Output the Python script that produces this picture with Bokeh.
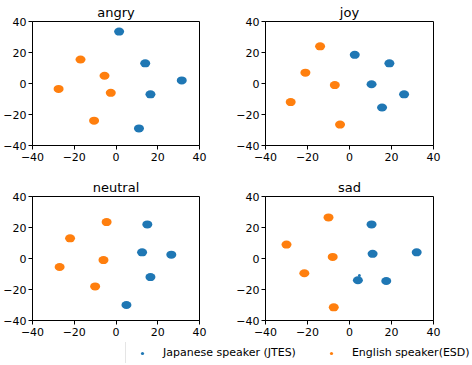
from bokeh.plotting import figure
from bokeh.layouts import gridplot, column
from bokeh.models import Range1d, FixedTicker, Legend, LegendItem
from bokeh.embed import file_html
from bokeh.resources import INLINE

# ---- data ----
emotions = ["angry", "joy", "neutral", "sad"]

angry_jp_x = [1.5, 14.0, 31.5, 16.5, 11.0]
angry_jp_y = [33.5, 13.0, 2.0, -7.0, -29.0]
angry_en_x = [-17.0, -5.5, -27.5, -2.5, -10.5]
angry_en_y = [15.5, 5.0, -3.5, -6.0, -24.0]

joy_jp_x = [2.5, 19.0, 10.5, 26.0, 15.5]
joy_jp_y = [18.5, 13.0, -0.5, -7.0, -15.5]
joy_en_x = [-14.0, -21.0, -7.0, -28.0, -4.5]
joy_en_y = [24.0, 7.0, -1.0, -12.0, -26.5]

neutral_jp_x = [15.0, 12.5, 26.5, 16.5, 5.0]
neutral_jp_y = [22.0, 4.0, 2.5, -12.0, -30.0]
neutral_en_x = [-4.5, -22.0, -6.0, -27.0, -10.0]
neutral_en_y = [23.5, 13.0, -1.0, -5.5, -18.0]

sad_jp_x = [10.5, 11.0, 32.0, 4.0, 17.5]
sad_jp_y = [22.0, 3.0, 4.0, -14.0, -14.5]
sad_en_x = [-10.0, -30.0, -8.0, -21.5, -7.5]
sad_en_y = [26.5, 9.0, 1.0, -9.5, -31.5]

sad_jp_stray_x = [4.7]
sad_jp_stray_y = [-11.0]

tick_values = [-40, -20, 0, 20, 40]
tick_labels = ["\u221240", "\u221220", "0", "20", "40"]

series_labels = ["Japanese speaker (JTES)", "English speaker(ESD)"]

BLUE = "#1f77b4"
ORANGE = "#ff7f0e"
FONT = "DejaVu Sans"

panel_data = {
    "angry": (angry_jp_x, angry_jp_y, angry_en_x, angry_en_y),
    "joy": (joy_jp_x, joy_jp_y, joy_en_x, joy_en_y),
    "neutral": (neutral_jp_x, neutral_jp_y, neutral_en_x, neutral_en_y),
    "sad": (sad_jp_x, sad_jp_y, sad_en_x, sad_en_y),
}


def make_panel(name, left, right, top, bottom, fw):
    jx, jy, ex, ey = panel_data[name]
    p = figure(frame_width=fw, frame_height=124,
               x_range=Range1d(-40, 40), y_range=Range1d(-40, 40),
               output_backend="svg", toolbar_location=None,
               min_border_left=left, min_border_right=right,
               min_border_top=top, min_border_bottom=bottom,
               title=name)
    p.ellipse(x=jx, y=jy, width=10, height=8, width_units="screen",
              height_units="screen", fill_color=BLUE, line_color=None)
    p.ellipse(x=ex, y=ey, width=10, height=8, width_units="screen",
              height_units="screen", fill_color=ORANGE, line_color=None)
    if name == "sad":
        p.scatter(x=sad_jp_stray_x, y=sad_jp_stray_y, size=3,
                  fill_color=BLUE, line_color=None)
    p.title.text_font = FONT
    p.title.text_font_size = "13px"
    p.title.text_font_style = "normal"
    p.title.text_color = "black"
    p.title.align = "center"
    p.title.standoff = 4
    p.grid.visible = False
    p.outline_line_color = "black"
    p.outline_line_alpha = 1.0
    p.background_fill_color = "white"
    for ax in list(p.xaxis) + list(p.yaxis):
        ax.ticker = FixedTicker(ticks=tick_values)
        ax.major_label_overrides = dict(zip(tick_values, tick_labels))
        ax.major_tick_in = 0
        ax.major_tick_out = 4
        ax.minor_tick_line_color = None
        ax.major_tick_line_color = "black"
        ax.axis_line_color = "black"
        ax.major_label_text_font = FONT
        ax.major_label_text_font_size = "11px"
        ax.major_label_text_color = "black"
    for ax in p.yaxis:
        ax.major_label_standoff = 2
    for ax in p.xaxis:
        ax.major_label_standoff = 3
    return p


p1 = make_panel("angry", 30, 34, 15, 22, 167)
p2 = make_panel("joy", 31, 26, 15, 22, 168)
p3 = make_panel("neutral", 30, 34, 29, 22, 167)
p4 = make_panel("sad", 31, 26, 29, 22, 168)

grid = gridplot([[p1, p2], [p3, p4]], toolbar_location=None)

# legend strip: its sample renderers lie outside its (far-away) ranges
leg = figure(width=472, height=21, x_range=Range1d(1000, 1001),
             y_range=Range1d(1000, 1001),
             output_backend="svg", toolbar_location=None, min_border=0,
             x_axis_location=None, y_axis_location=None)
leg.outline_line_color = None
leg.grid.visible = False
r1 = leg.scatter(x=angry_jp_x, y=angry_jp_y, size=3, fill_color=BLUE, line_color=None)
r2 = leg.scatter(x=angry_en_x, y=angry_en_y, size=3, fill_color=ORANGE, line_color=None)
legend = Legend(items=[LegendItem(label=series_labels[0], renderers=[r1]),
                       LegendItem(label=series_labels[1], renderers=[r2])],
                orientation="horizontal", location=(125, -1), padding=4,
                spacing=23, glyph_width=24, glyph_height=8, label_standoff=9,
                label_text_font=FONT, label_text_font_size="11px",
                label_text_color="black", label_height=8, margin=0,
                border_line_color="#cccccc", background_fill_alpha=0.8)
leg.add_layout(legend)

layout = column(grid, leg)
open("out.html", "w").write(file_html(layout, INLINE))
